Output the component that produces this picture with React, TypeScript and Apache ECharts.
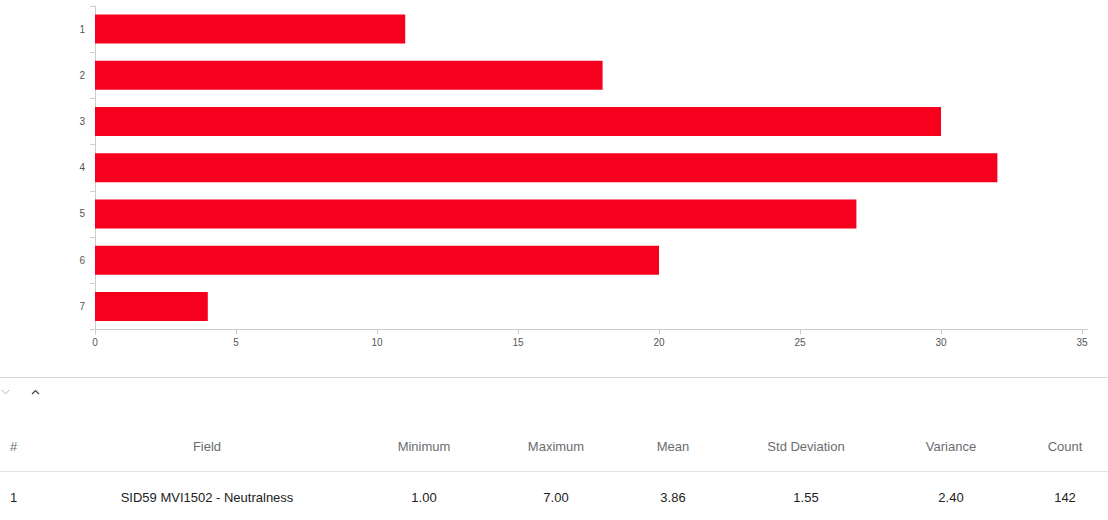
import React, { useEffect, useRef } from "react";
import * as echarts from "echarts";

const categories = ["1", "2", "3", "4", "5", "6", "7"];
const counts = [11, 18, 30, 32, 27, 20, 4];
const xTicks = { min: 0, max: 35, interval: 5 };

const headers = ["#", "Field", "Minimum", "Maximum", "Mean", "Std Deviation", "Variance", "Count"];
const rowValues = ["1", "SID59 MVI1502 - Neutralness", "1.00", "7.00", "3.86", "1.55", "2.40", "142"];
const columnCenters = [10, 207, 424, 556, 673, 806, 951, 1065];

export default function App() {
  const ref = useRef<HTMLDivElement>(null);
  useEffect(() => {
    if (!ref.current) return;
    const chart = echarts.init(ref.current, null, { renderer: "svg" });
    const font = "'Liberation Sans', Arial, sans-serif";
    const graphic: any[] = [
      { type: "line", shape: { x1: 1082, y1: 329.5, x2: 1088, y2: 329.5 }, style: { stroke: "#cccccc", lineWidth: 1 } },
      { type: "rect", shape: { x: 0, y: 377, width: 1108, height: 1 }, style: { fill: "#d5d5d5" } },
      { type: "polyline", shape: { points: [[2, 390], [5.5, 394], [9, 390]] }, style: { stroke: "#b8b8b8", lineWidth: 1, fill: null } },
      { type: "polyline", shape: { points: [[32, 394], [35.5, 390.5], [39, 394]] }, style: { stroke: "#444444", lineWidth: 1.2, fill: null } },
      { type: "rect", shape: { x: 0, y: 471, width: 1108, height: 1 }, style: { fill: "#e3e3e3" } },
    ];
    headers.forEach((h, i) => {
      graphic.push({
        type: "text",
        x: columnCenters[i],
        y: 446,
        style: {
          text: h,
          fill: "#6a6d70",
          font: `13px ${font}`,
          align: i === 0 ? "left" : "center",
          verticalAlign: "middle",
        },
      });
    });
    rowValues.forEach((v, i) => {
      graphic.push({
        type: "text",
        x: columnCenters[i],
        y: 497,
        style: {
          text: v,
          fill: "#222222",
          font: `13px ${font}`,
          align: i === 0 ? "left" : "center",
          verticalAlign: "middle",
        },
      });
    });

    chart.setOption({
      animation: false,
      grid: { left: 95, right: 26, top: 6, bottom: 190.5, containLabel: false },
      xAxis: {
        type: "value",
        min: xTicks.min,
        max: xTicks.max,
        interval: xTicks.interval,
        axisLine: { show: true, lineStyle: { color: "#cccccc" } },
        axisTick: { show: true, length: 5, lineStyle: { color: "#cccccc" } },
        axisLabel: { color: "#555555", fontSize: 10, margin: 8, fontFamily: font },
        splitLine: { show: false },
      },
      yAxis: {
        type: "category",
        data: categories,
        inverse: true,
        axisLine: { show: true, lineStyle: { color: "#cccccc" } },
        axisTick: { show: true, length: 5, lineStyle: { color: "#cccccc" } },
        axisLabel: { color: "#555555", fontSize: 10, margin: 10, fontFamily: font },
      },
      series: [
        {
          type: "bar",
          data: counts,
          barWidth: 29,
          itemStyle: { color: "#f5001d" },
        },
      ],
      graphic,
    });
    return () => chart.dispose();
  }, []);
  return (
    <div
      ref={ref}
      style={{ position: "fixed", left: 0, top: 0, width: 1108, height: 520, background: "#ffffff" }}
    />
  );
}
